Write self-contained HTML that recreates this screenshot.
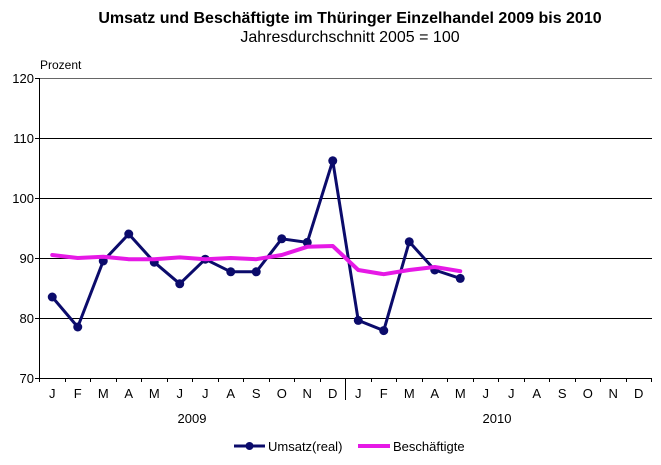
<!DOCTYPE html>
<html><head><meta charset="utf-8"><style>
body{margin:0;background:#fff;}
svg{display:block;font-family:"Liberation Sans",Arial,sans-serif;}
</style></head><body>
<svg width="661" height="465" viewBox="0 0 661 465">
<text x="350" y="23" text-anchor="middle" font-size="16" font-weight="bold">Umsatz und Beschäftigte im Thüringer Einzelhandel 2009 bis 2010</text>
<text x="350" y="42" text-anchor="middle" font-size="16">Jahresdurchschnitt 2005 = 100</text>
<text x="40" y="69" font-size="12">Prozent</text>
<g stroke="#000" stroke-width="1">
<line x1="39.5" y1="78.5" x2="652" y2="78.5" stroke="#666"/>
<line x1="39.5" y1="138.5" x2="652" y2="138.5"/>
<line x1="39.5" y1="198.5" x2="652" y2="198.5"/>
<line x1="39.5" y1="258.5" x2="652" y2="258.5"/>
<line x1="39.5" y1="318.5" x2="652" y2="318.5"/>
<line x1="39.5" y1="378.5" x2="652" y2="378.5"/>
<line x1="39.5" y1="78" x2="39.5" y2="382"/>
<line x1="35" y1="78.5" x2="39.5" y2="78.5"/><line x1="35" y1="138.5" x2="39.5" y2="138.5"/><line x1="35" y1="198.5" x2="39.5" y2="198.5"/><line x1="35" y1="258.5" x2="39.5" y2="258.5"/><line x1="35" y1="318.5" x2="39.5" y2="318.5"/><line x1="35" y1="378.5" x2="39.5" y2="378.5"/>
<line x1="345.5" y1="378" x2="345.5" y2="400"/>
</g>
<g stroke="#000">
<line x1="65.5" y1="378" x2="65.5" y2="382"/><line x1="90.5" y1="378" x2="90.5" y2="382"/><line x1="116.5" y1="378" x2="116.5" y2="382"/><line x1="141.5" y1="378" x2="141.5" y2="382"/><line x1="167.5" y1="378" x2="167.5" y2="382"/><line x1="192.5" y1="378" x2="192.5" y2="382"/><line x1="218.5" y1="378" x2="218.5" y2="382"/><line x1="243.5" y1="378" x2="243.5" y2="382"/><line x1="269.5" y1="378" x2="269.5" y2="382"/><line x1="294.5" y1="378" x2="294.5" y2="382"/><line x1="320.5" y1="378" x2="320.5" y2="382"/>
<line x1="371.5" y1="378" x2="371.5" y2="382"/><line x1="396.5" y1="378" x2="396.5" y2="382"/><line x1="422.5" y1="378" x2="422.5" y2="382"/><line x1="447.5" y1="378" x2="447.5" y2="382"/><line x1="473.5" y1="378" x2="473.5" y2="382"/><line x1="498.5" y1="378" x2="498.5" y2="382"/><line x1="524.5" y1="378" x2="524.5" y2="382"/><line x1="549.5" y1="378" x2="549.5" y2="382"/><line x1="575.5" y1="378" x2="575.5" y2="382"/><line x1="600.5" y1="378" x2="600.5" y2="382"/><line x1="626.5" y1="378" x2="626.5" y2="382"/><line x1="651.5" y1="378" x2="651.5" y2="382"/>
</g>
<g font-size="13" text-anchor="end">
<text x="34" y="83">120</text><text x="34" y="143">110</text><text x="34" y="203">100</text><text x="34" y="263">90</text><text x="34" y="323">80</text><text x="34" y="383">70</text>
</g>
<g font-size="13" text-anchor="middle">
<text x="52.25" y="398">J</text><text x="77.75" y="398">F</text><text x="103.25" y="398">M</text><text x="128.75" y="398">A</text><text x="154.25" y="398">M</text><text x="179.75" y="398">J</text><text x="205.25" y="398">J</text><text x="230.75" y="398">A</text><text x="256.25" y="398">S</text><text x="281.75" y="398">O</text><text x="307.25" y="398">N</text><text x="332.75" y="398">D</text>
<text x="358.25" y="398">J</text><text x="383.75" y="398">F</text><text x="409.25" y="398">M</text><text x="434.75" y="398">A</text><text x="460.25" y="398">M</text><text x="485.75" y="398">J</text><text x="511.25" y="398">J</text><text x="536.75" y="398">A</text><text x="562.25" y="398">S</text><text x="587.75" y="398">O</text><text x="613.25" y="398">N</text><text x="638.75" y="398">D</text>
<text x="192" y="423">2009</text><text x="497" y="423">2010</text>
</g>
<polyline fill="none" stroke="#0b0b6b" stroke-width="3" stroke-linejoin="round" points="52.25,297 77.75,327 103.25,261 128.75,234 154.25,262.2 179.75,283.8 205.25,259.2 230.75,271.8 256.25,271.8 281.75,238.8 307.25,242.4 332.75,160.8 358.25,320.4 383.75,330.6 409.25,241.8 434.75,270 460.25,278.4"/>
<g fill="#0b0b6b">
<circle cx="52.25" cy="297" r="4.5"/><circle cx="77.75" cy="327" r="4.5"/><circle cx="103.25" cy="261" r="4.5"/><circle cx="128.75" cy="234" r="4.5"/><circle cx="154.25" cy="262.2" r="4.5"/><circle cx="179.75" cy="283.8" r="4.5"/><circle cx="205.25" cy="259.2" r="4.5"/><circle cx="230.75" cy="271.8" r="4.5"/><circle cx="256.25" cy="271.8" r="4.5"/><circle cx="281.75" cy="238.8" r="4.5"/><circle cx="307.25" cy="242.4" r="4.5"/><circle cx="332.75" cy="160.8" r="4.5"/><circle cx="358.25" cy="320.4" r="4.5"/><circle cx="383.75" cy="330.6" r="4.5"/><circle cx="409.25" cy="241.8" r="4.5"/><circle cx="434.75" cy="270" r="4.5"/><circle cx="460.25" cy="278.4" r="4.5"/>
</g>
<polyline fill="none" stroke="#e619e6" stroke-width="4" stroke-linejoin="round" stroke-linecap="round" points="52.25,255 77.75,258 103.25,256.8 128.75,259.2 154.25,259.2 179.75,257.4 205.25,259.2 230.75,258 256.25,259.2 281.75,255 307.25,246.8 332.75,246 358.25,270 383.75,274.2 409.25,270 434.75,267 460.25,271.2"/>
<line x1="234" y1="446" x2="265" y2="446" stroke="#0b0b6b" stroke-width="3"/>
<circle cx="249.5" cy="446" r="4" fill="#0b0b6b"/>
<text x="268" y="451" font-size="13">Umsatz(real)</text>
<line x1="358" y1="446" x2="390" y2="446" stroke="#e619e6" stroke-width="4"/>
<text x="393" y="451" font-size="13">Beschäftigte</text>
</svg>
</body></html>
